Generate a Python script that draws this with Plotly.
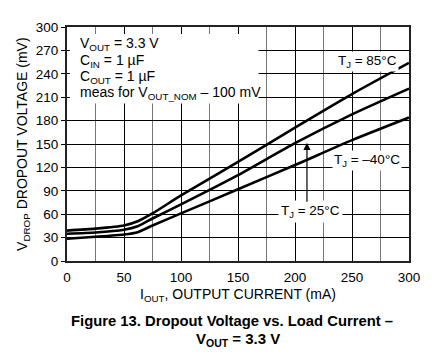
import plotly.graph_objects as go

# Data
current_ma = [0, 25, 50, 62, 75, 100, 150, 200, 250, 300]
vdrop_85c = [39, 41.5, 45.5, 51, 61, 84, 127, 171, 214, 254]
vdrop_25c = [35, 36.5, 40, 44.5, 54.5, 72.5, 110, 151, 188, 221]
vdrop_m40c = [28.5, 31, 34, 37, 45.5, 61, 92, 123, 155, 184]

x_ticks = [0, 50, 100, 150, 200, 250, 300]
y_ticks = [0, 30, 60, 90, 120, 150, 180, 210, 240, 270, 300]

FONT = "Liberation Sans, Arial, Helvetica, sans-serif"

fig = go.Figure()
for ys in (vdrop_85c, vdrop_25c, vdrop_m40c):
    fig.add_trace(go.Scatter(x=current_ma, y=ys, mode="lines",
                             line=dict(color="black", width=2.6, shape="spline", smoothing=0.6),
                             hoverinfo="skip", showlegend=False))

# page body has an 8px margin, so size the figure to fit the 432x361 window
fig.update_layout(
    width=424, height=345,
    margin=dict(l=59, r=23, t=14, b=92),
    paper_bgcolor="white", plot_bgcolor="white",
    font=dict(family=FONT, size=14, color="black"),
    showlegend=False,
)
fig.update_xaxes(range=[0, 300], tickvals=x_ticks, ticktext=[str(v) for v in x_ticks],
                 showgrid=True, gridcolor="black", gridwidth=1.2,
                 minor=dict(dtick=25, tick0=0, showgrid=True, gridcolor="#777777", gridwidth=1.2),
                 showline=True, linecolor="#222222", linewidth=2, mirror=True,
                 ticks="", zeroline=False, tickfont=dict(size=13.5), ticklabelstandoff=3)
fig.update_yaxes(range=[0, 300], tickvals=y_ticks, ticktext=[str(v) for v in y_ticks],
                 showgrid=True, gridcolor="black", gridwidth=1.2,
                 showline=True, linecolor="#222222", linewidth=2, mirror=True,
                 ticks="outside", ticklen=4, tickcolor="black", zeroline=False,
                 tickfont=dict(size=13.5))

# White conditions box covering the grid
fig.add_shape(type="rect", xref="x", yref="y", x0=2.5, x1=168, y0=202, y1=291,
              fillcolor="white", line=dict(width=0), layer="above")

box_lines = [
    ("V<sub>OUT</sub> = 3.3 V", 278.5),
    ("C<sub>IN</sub> = 1 µF", 257),
    ("C<sub>OUT</sub> = 1 µF", 236),
    ("meas for V<sub>OUT_NOM</sub> – 100 mV", 215.5),
]
for txt, yv in box_lines:
    fig.add_annotation(x=9.5, y=yv, xref="x", yref="y", text=txt, showarrow=False,
                       xanchor="left", yanchor="middle", font=dict(size=14))

# Curve labels
fig.add_annotation(x=264, y=256, xref="x", yref="y", text="T<sub>J</sub> = 85°C",
                   showarrow=False, bgcolor="white", font=dict(size=13.5), borderpad=1)
fig.add_annotation(x=263, y=129, xref="x", yref="y", text="T<sub>J</sub> = –40°C",
                   showarrow=False, bgcolor="white", font=dict(size=13.5), borderpad=1)
fig.add_annotation(x=214, y=63, xref="x", yref="y", text="T<sub>J</sub> = 25°C",
                   showarrow=False, bgcolor="white", font=dict(size=13.5), borderpad=2)
fig.add_annotation(x=210.5, y=151.5, xref="x", yref="y", ax=210.5, ay=74,
                   axref="x", ayref="y", text="", showarrow=True,
                   arrowhead=2, arrowsize=1.2, arrowwidth=1.2, arrowcolor="black")

# Axis titles
fig.add_annotation(x=0.5, y=-0.145, xref="paper", yref="paper",
                   text="I<sub>OUT</sub>, OUTPUT CURRENT (mA)", showarrow=False,
                   xanchor="center", yanchor="middle", font=dict(size=14))
fig.add_annotation(x=-0.129, y=0.5, xref="paper", yref="paper",
                   text="V<sub>DROP</sub> DROPOUT VOLTAGE (mV)", showarrow=False,
                   textangle=-90, xanchor="center", yanchor="middle", font=dict(size=14))

# Caption
fig.add_annotation(x=0.482, y=-0.258, xref="paper", yref="paper",
                   text="<b>Figure 13. Dropout Voltage vs. Load Current –</b>", showarrow=False,
                   xanchor="center", yanchor="middle", font=dict(size=14.8))
fig.add_annotation(x=0.37, y=-0.335, xref="paper", yref="paper",
                   text="<b>V<sub>OUT</sub> = 3.3 V</b>", showarrow=False,
                   xanchor="left", yanchor="middle", font=dict(size=15))

fig.write_html("out.html")
